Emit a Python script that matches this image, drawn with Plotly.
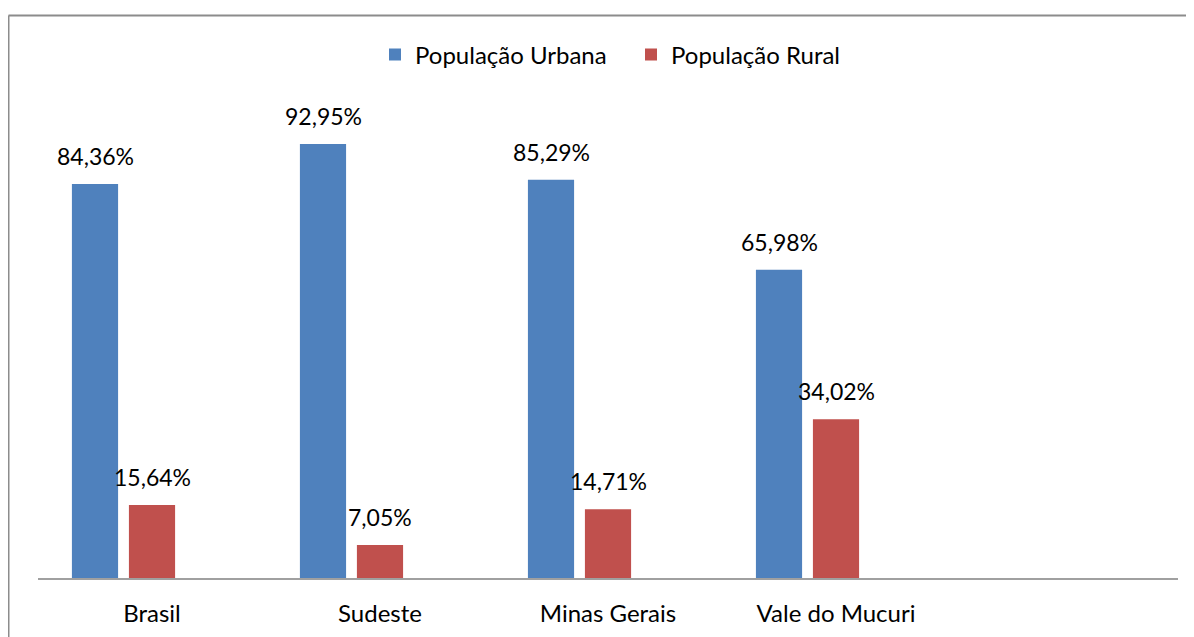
import plotly.graph_objects as go

categories = ["Brasil", "Sudeste", "Minas Gerais", "Vale do Mucuri"]
urbana = [84.36, 92.95, 85.29, 65.98]
rural = [15.64, 7.05, 14.71, 34.02]
series_names = ["População Urbana", "População Rural"]
colors = ["#4F81BD", "#C0504D"]

# page has an 8px body margin, so figure is placed at (8, 8)
W, H = 1186, 629
ml, mr, mt, mb = 30, 16, 103, 59
n_slots = 5  # Excel axis reserves a fifth, empty category
bargap = 0.25
bargroupgap = 0.19
n_series = 3  # third (empty) series reserves space in each group

font_family = "Lato, 'Noto Sans', sans-serif"
fsize_num = 23
fsize_txt = 24

fig = go.Figure()
for name, vals, col in zip(series_names, [urbana, rural], colors):
    fig.add_trace(go.Bar(x=categories, y=vals, name=name, marker_color=col,
                         marker_line_width=0))
fig.add_trace(go.Bar(x=categories, y=[None] * len(categories), name="",
                     showlegend=False, hoverinfo="skip"))

plot_w = W - ml - mr
plot_h = H - mt - mb
cat_px = plot_w / n_slots
slot_px = cat_px * (1 - bargap) / n_series

def fmt(v):
    return f"{v:.2f}".replace(".", ",") + "%"

annotations = []
for j, vals in enumerate([urbana, rural]):
    shift = (j - (n_series - 1) / 2) * slot_px
    for c, v in zip(categories, vals):
        annotations.append(dict(x=c, y=v, xref="x", yref="y", text=fmt(v),
                                showarrow=False, xshift=shift, yanchor="bottom",
                                yshift=12, font=dict(family=font_family, size=fsize_num,
                                                     color="#000000")))

def px_x(p):
    return (p - ml) / plot_w

def px_y(p):
    return (H - mb - p) / plot_h

fig.update_layout(
    width=W, height=H,
    margin=dict(l=ml, r=mr, t=mt, b=mb, autoexpand=False),
    paper_bgcolor="white", plot_bgcolor="white",
    barmode="group", bargap=bargap, bargroupgap=bargroupgap,
    font=dict(family=font_family, size=fsize_txt, color="#000000"),
    showlegend=True,
    legend=dict(orientation="h", x=0.5 + 23 / plot_w, xanchor="center", y=px_y(47),
                yanchor="middle", entrywidth=211,
                font=dict(family=font_family, size=fsize_txt, color="#000000"),
                bgcolor="rgba(0,0,0,0)"),
    xaxis=dict(range=[-0.5, n_slots - 0.5], showline=True, linecolor="#A0A0A0",
               linewidth=2, showgrid=False, zeroline=False, ticks="", automargin=False,
               ticklabelstandoff=13, tickfont=dict(family=font_family, size=fsize_txt,
                                                   color="#000000")),
    yaxis=dict(range=[0, 100], visible=False, showgrid=False, zeroline=False,
               automargin=False),
    annotations=annotations,
    shapes=[
        dict(type="line", xref="paper", yref="paper", x0=px_x(0.5), x1=px_x(1200),
             y0=px_y(7.5), y1=px_y(7.5), line=dict(color="#8C8C8C", width=2)),
        dict(type="line", xref="paper", yref="paper", x0=px_x(0.5), x1=px_x(0.5),
             y0=px_y(7.5), y1=px_y(640), line=dict(color="#8C8C8C", width=2)),
    ],
)

fig.write_html("out.html")
